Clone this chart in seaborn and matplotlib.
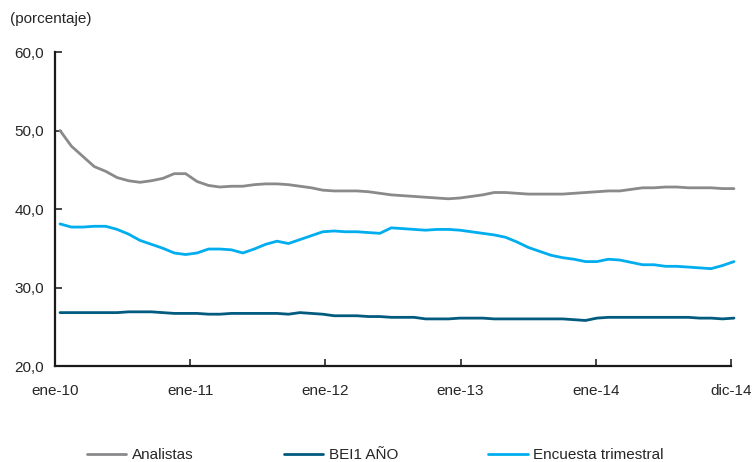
import numpy as np
import pandas as pd
import matplotlib
matplotlib.use("Agg")
import matplotlib.pyplot as plt
import seaborn as sns

# datos mensuales ene-10 a dic-14
analistas = [50.0, 48.0, 46.7, 45.4, 44.8, 44.0, 43.6, 43.4, 43.6, 43.9,
             44.5, 44.5, 43.5, 43.0, 42.8, 42.9, 42.9, 43.1, 43.2, 43.2,
             43.1, 42.9, 42.7, 42.4, 42.3, 42.3, 42.3, 42.2, 42.0, 41.8,
             41.7, 41.6, 41.5, 41.4, 41.3, 41.4, 41.6, 41.8, 42.1, 42.1,
             42.0, 41.9, 41.9, 41.9, 41.9, 42.0, 42.1, 42.2, 42.3, 42.3,
             42.5, 42.7, 42.7, 42.8, 42.8, 42.7, 42.7, 42.7, 42.6, 42.6]
bei1 = [26.8, 26.8, 26.8, 26.8, 26.8, 26.8, 26.9, 26.9, 26.9, 26.8,
        26.7, 26.7, 26.7, 26.6, 26.6, 26.7, 26.7, 26.7, 26.7, 26.7,
        26.6, 26.8, 26.7, 26.6, 26.4, 26.4, 26.4, 26.3, 26.3, 26.2,
        26.2, 26.2, 26.0, 26.0, 26.0, 26.1, 26.1, 26.1, 26.0, 26.0,
        26.0, 26.0, 26.0, 26.0, 26.0, 25.9, 25.8, 26.1, 26.2, 26.2,
        26.2, 26.2, 26.2, 26.2, 26.2, 26.2, 26.1, 26.1, 26.0, 26.1]
encuesta = [38.1, 37.7, 37.7, 37.8, 37.8, 37.4, 36.8, 36.0, 35.5, 35.0,
            34.4, 34.2, 34.4, 34.9, 34.9, 34.8, 34.4, 34.9, 35.5, 35.9,
            35.6, 36.1, 36.6, 37.1, 37.2, 37.1, 37.1, 37.0, 36.9, 37.6,
            37.5, 37.4, 37.3, 37.4, 37.4, 37.3, 37.1, 36.9, 36.7, 36.4,
            35.8, 35.1, 34.6, 34.1, 33.8, 33.6, 33.3, 33.3, 33.6, 33.5,
            33.2, 32.9, 32.9, 32.7, 32.7, 32.6, 32.5, 32.4, 32.8, 33.3]
tick_labels = ['ene-10', 'ene-11', 'ene-12', 'ene-13', 'ene-14', 'dic-14']
y_ticks = [20, 30, 40, 50, 60]

mes = np.arange(len(analistas))
df = pd.DataFrame({'mes': np.tile(mes, 3),
                   'valor': analistas + bei1 + encuesta,
                   'serie': ['Analistas'] * 60 + ['BEI1 AÑO'] * 60 + ['Encuesta trimestral'] * 60})

sns.set_style('white')
plt.rcParams['font.family'] = ['Liberation Sans', 'DejaVu Sans']

fig = plt.figure(figsize=(7.54, 4.62), dpi=100)
ax = fig.add_axes([55 / 754, 1 - 366 / 462, 676 / 754, 314 / 462])

colores = {'Analistas': '#8a8a8c', 'BEI1 AÑO': '#005b7f', 'Encuesta trimestral': '#00adef'}
sns.lineplot(data=df, x='mes', y='valor', hue='serie', palette=colores,
             linewidth=2, ax=ax, clip_on=False)

x0, x1 = -0.44, 58.74
ax.set_xlim(x0, x1)
ax.set_ylim(20, 60)
ax.set_xticks(np.linspace(x0, x1, 6))
ax.set_xticklabels(tick_labels)
ax.set_yticks(y_ticks)
ax.set_yticklabels(['{:.1f}'.format(v).replace('.', ',') for v in y_ticks])
ax.set_xlabel('')
ax.set_ylabel('')
ax.tick_params(axis='x', direction='in', length=5, width=1.2, pad=13, labelsize=11, bottom=True)
ax.tick_params(axis='y', direction='in', length=5, width=1.2, pad=8, labelsize=11, left=True)
for s in ['top', 'right']:
    ax.spines[s].set_visible(False)
for s in ['left', 'bottom']:
    ax.spines[s].set_color('#1a1a1a')
    ax.spines[s].set_linewidth(1.6)

fig.text(10 / 754, 1 - 19 / 462, '(porcentaje)', fontsize=11, va='center', ha='left')

h, l = ax.get_legend_handles_labels()
ax.get_legend().remove()
fig.legend(h, l, loc='center left', bbox_to_anchor=(73 / 754, 1 - 455 / 462), ncol=3,
           frameon=False, fontsize=11, handlelength=2.6, columnspacing=5.9, handletextpad=0.35)

fig.savefig('out.png', dpi=100)
